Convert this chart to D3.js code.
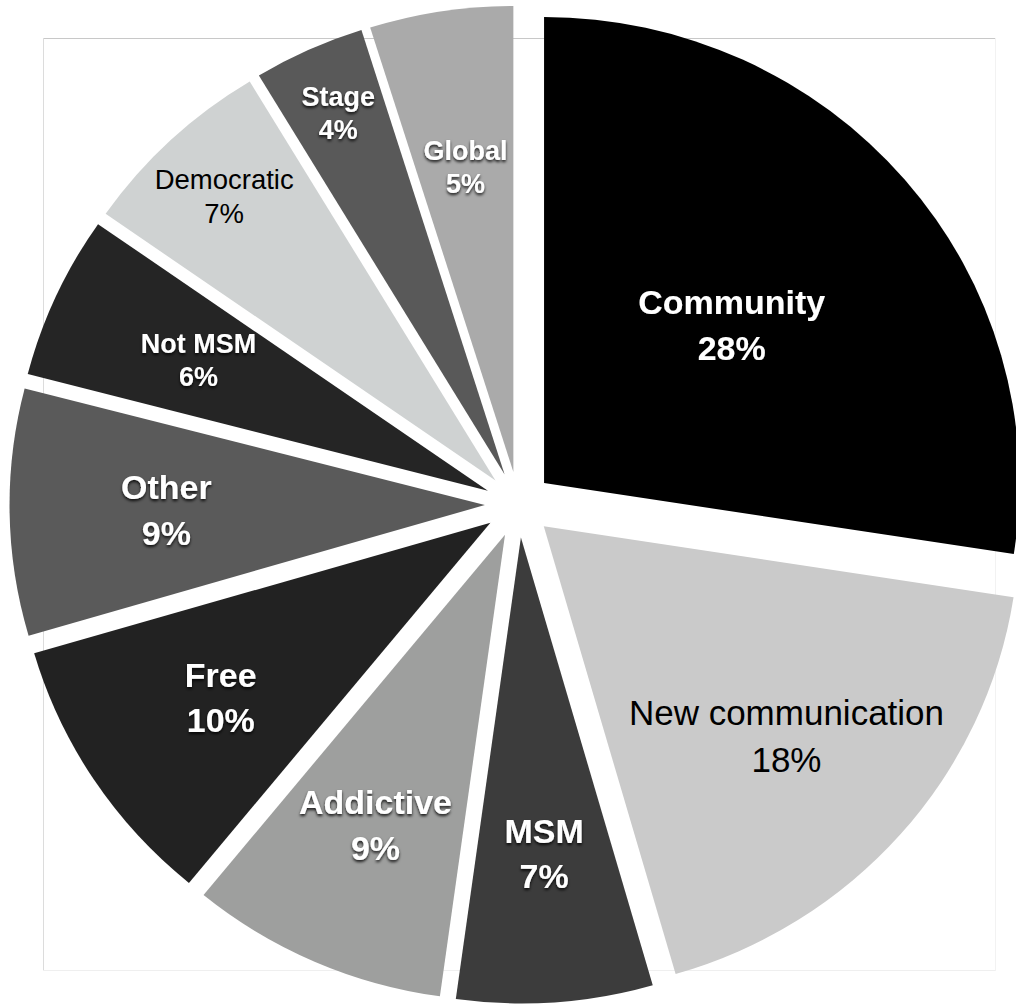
<!DOCTYPE html>
<html>
<head>
<meta charset="utf-8">
<script src="https://cdn.jsdelivr.net/npm/d3@7/dist/d3.min.js"></script>
<style>
  html, body { margin: 0; padding: 0; background: #fff; }
  svg { display: block; }
</style>
</head>
<body>
<svg id="chart" width="1016" height="1005"></svg>
<script>
// Share of responses per theme (percent), clockwise from 12 o'clock
const categories = ["Community", "New communication", "MSM", "Addictive", "Free",
                    "Other", "Not MSM", "Democratic", "Stage", "Global"];
const shares = [27.6, 18.2, 6.7, 8.8, 9.6, 8.6, 5.7, 6.7, 3.8, 4.9];

// Presentation settings (kept apart from the data)
const fills = ["#000000", "#cacaca", "#3c3c3c", "#9e9f9e", "#222222",
               "#5a5a5a", "#252525", "#cfd2d2", "#595959", "#aaaaaa"];
const labelColors = ["#fff", "#000", "#fff", "#fff", "#fff", "#fff", "#fff", "#000", "#fff", "#fff"];
const labelBold   = [true, false, true, true, true, true, true, false, true, true];
const labelSizes  = [34, 35, 34, 34, 34, 34, 27, 27.5, 27, 27];
const labelShadow = [true, false, true, true, true, true, true, false, true, true];
const labelRadii  = [0.52, 0.68, 0.68, 0.68, 0.68, 0.67, 0.67, 0.835, 0.85, 0.66];

const cx = 518.5, cy = 504.5;   // pie centre
const radius = 466;             // outer radius
const stretchX = 1.02;          // slight horizontal stretch of the drawing
const explode = 33;             // every wedge is pulled out along its bisector

const svg = d3.select("#chart");

// drop shadow used behind the white labels
const defs = svg.append("defs");
const f = defs.append("filter").attr("id", "lblShadow")
  .attr("x", "-20%").attr("y", "-20%").attr("width", "140%").attr("height", "160%");
f.append("feDropShadow").attr("dx", 0).attr("dy", 2).attr("stdDeviation", 1.6)
  .attr("flood-color", "#000").attr("flood-opacity", 0.85);

// plot frame behind the pie
const frame = svg.append("g");
frame.append("line").attr("x1", 43).attr("x2", 996).attr("y1", 38.5).attr("y2", 38.5)
  .attr("stroke", "#c8c8c8").attr("stroke-width", 1);
frame.append("line").attr("x1", 43.5).attr("x2", 43.5).attr("y1", 38).attr("y2", 971)
  .attr("stroke", "#dcdcdc").attr("stroke-width", 1);
frame.append("line").attr("x1", 43).attr("x2", 996).attr("y1", 970.5).attr("y2", 970.5)
  .attr("stroke", "#efefef").attr("stroke-width", 1);
frame.append("line").attr("x1", 995.5).attr("x2", 995.5).attr("y1", 38).attr("y2", 971)
  .attr("stroke", "#f2f2f2").attr("stroke-width", 1);

const pie = d3.pie().sort(null).value(d => d)
  .startAngle(0).endAngle(2 * Math.PI);
const arcs = pie(shares);
const arc = d3.arc().innerRadius(0).outerRadius(radius);

const midAngle = a => (a.startAngle + a.endAngle) / 2;
const unit = a => [Math.sin(midAngle(a)), -Math.cos(midAngle(a))];

const wedges = svg.append("g")
  .attr("transform", `translate(${cx},${cy}) scale(${stretchX},1)`);

wedges.selectAll("path")
  .data(arcs)
  .join("path")
  .attr("transform", a => {
    const [ux, uy] = unit(a);
    return `translate(${explode * ux},${explode * uy})`;
  })
  .attr("d", arc)
  .attr("fill", (a, i) => fills[i]);

// labels: name + rounded percentage, placed along each wedge's bisector
const labels = svg.append("g")
  .attr("font-family", "'Liberation Sans', Arial, Helvetica, sans-serif")
  .attr("text-anchor", "middle");

arcs.forEach((a, i) => {
  const [ux, uy] = unit(a);
  const dist = explode + labelRadii[i] * radius;
  const x = cx + ux * dist * stretchX;
  const y = cy + uy * dist;
  const size = labelSizes[i];
  const gap = size * (size > 30 ? 1.34 : 1.22);
  const t = labels.append("text")
    .attr("font-size", size)
    .attr("font-weight", labelBold[i] ? "bold" : "normal")
    .attr("fill", labelColors[i])
    .attr("filter", labelShadow[i] ? "url(#lblShadow)" : null);
  t.append("tspan").attr("x", x).attr("y", y - gap / 2)
    .attr("dominant-baseline", "central").text(categories[i]);
  t.append("tspan").attr("x", x).attr("y", y + gap / 2)
    .attr("dominant-baseline", "central").text(`${Math.round(shares[i])}%`);
});
</script>
</body>
</html>
